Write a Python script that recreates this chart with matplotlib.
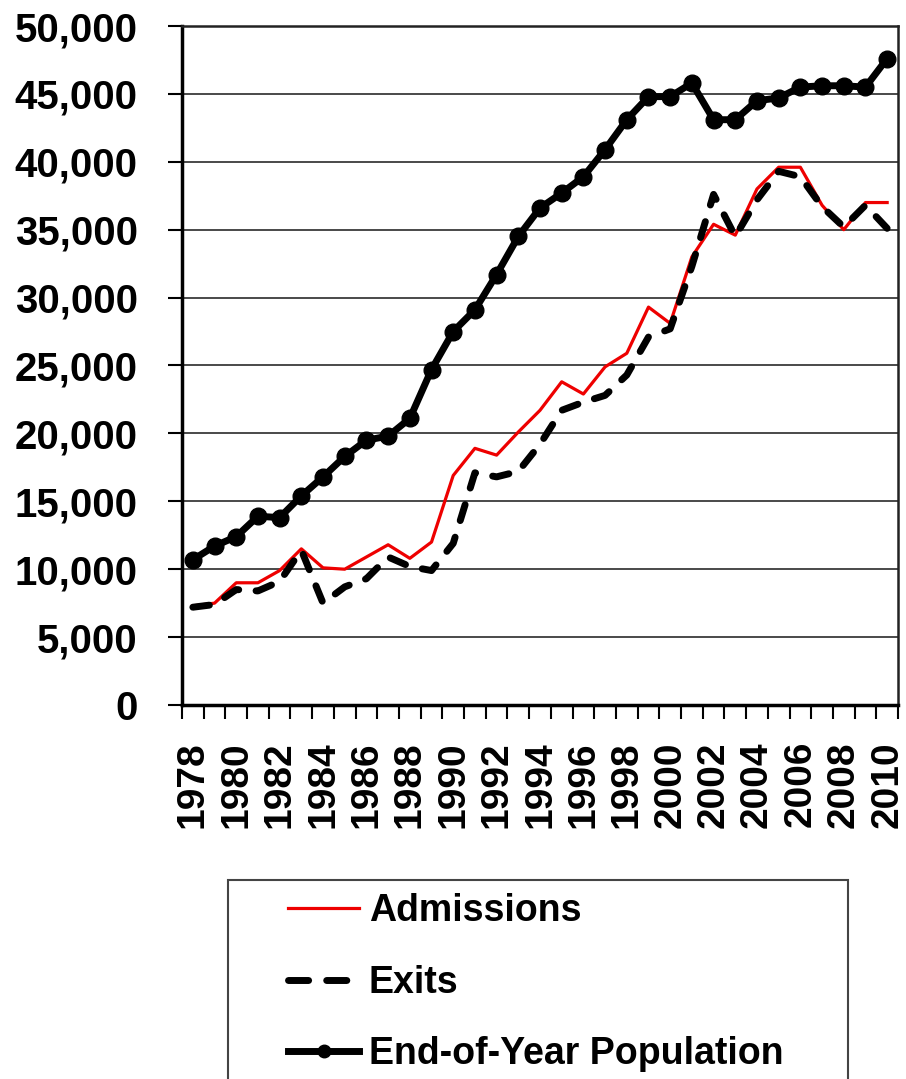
import numpy as np
import matplotlib
matplotlib.use("Agg")
import matplotlib.pyplot as plt
from matplotlib.patches import Rectangle
from matplotlib.lines import Line2D
from matplotlib.ticker import FuncFormatter

plt.rcParams['font.family'] = ['Liberation Sans', 'DejaVu Sans']

years = list(range(1978, 2011))

admissions = [7300, 7500, 9000, 9000, 9900, 11500, 10100, 10000, 10900, 11800,
              10800, 12000, 16900, 18900, 18400, 20100, 21700, 23800, 22900, 24900,
              25900, 29300, 28100, 33000, 35400, 34600, 38000, 39600, 39600, 36800,
              35000, 37000, 37000]

exits = [7200, 7400, 8500, 8400, 9100, 11400, 7500, 8700, 9300, 10900,
         10200, 9900, 11900, 17100, 16800, 17200, 19200, 21700, 22300, 22800,
         24300, 27100, 27700, 32300, 37600, 34500, 37200, 39300, 38900, 36700,
         35200, 36800, 35100]

population = [10700, 11700, 12400, 13900, 13800, 15400, 16800, 18300, 19500, 19800,
              21100, 24700, 27500, 29100, 31700, 34500, 36600, 37700, 38900, 40900,
              43100, 44800, 44800, 45800, 43100, 43100, 44500, 44700, 45500, 45600,
              45600, 45500, 47600]

fig = plt.figure(figsize=(9.06, 10.79), dpi=100)
ax = fig.add_axes([182/906, 1-705/1079, (898-182)/906, (705-26)/1079])

l1, = ax.plot(years, admissions, color='#ee0000', lw=2.3, zorder=3)
ax.plot(years, exits, color='black', lw=5, linestyle=(0, (2.4, 2.5)),
        dash_capstyle='round', zorder=4)
l3, = ax.plot(years, population, color='black', lw=5, marker='o', markersize=12,
              zorder=5)

ax.set_xlim(1977.5, 2010.5)
ax.set_ylim(0, 50000)
ax.set_yticks(range(0, 50001, 5000))
ax.yaxis.set_major_formatter(FuncFormatter(lambda v, p: f"{int(v):,}"))
ax.grid(axis='y', color='#3a3a3a', lw=1.3, zorder=0)

ax.set_xticks(years[::2])
ax.set_xticks(np.arange(1977.5, 2011, 1), minor=True)
ax.tick_params(axis='x', which='major', length=0, pad=26, labelrotation=90, labelsize=28)
ax.tick_params(axis='x', which='minor', length=10, width=1.5, direction='out')
ax.tick_params(axis='y', length=10, width=1.5, direction='out', pad=22, labelsize=29)
for lab in ax.get_xticklabels() + ax.get_yticklabels():
    lab.set_fontweight('bold')

for s in ['left', 'bottom']:
    ax.spines[s].set_linewidth(2.5)
for s in ['top', 'right']:
    ax.spines[s].set_linewidth(1.8)
    ax.spines[s].set_color('#222222')

# legend box below the chart, cut off by the bottom edge
fig.patches.append(Rectangle((228/906, -0.05), (848-228)/906, 0.05 + 1-880/1079,
                             transform=fig.transFigure, fill=False,
                             edgecolor='#444444', lw=1.5))
exit_handle = Line2D([], [], color='black', lw=5, linestyle=(0, (2.9, 2.6)),
                     dash_capstyle='round')
pop_handle = Line2D([], [], color='black', lw=5, marker='o', markersize=9)
leg = fig.legend([l1, exit_handle, pop_handle],
                 ['Admissions', 'Exits', 'End-of-Year Population'],
                 loc='upper left', bbox_to_anchor=(288/906, 1-893/1079),
                 frameon=False, borderpad=0, borderaxespad=0,
                 handlelength=1.9, handletextpad=0.25, labelspacing=0.95,
                 prop={'size': 27, 'weight': 'bold'})

fig.savefig('out.png', dpi=100)
